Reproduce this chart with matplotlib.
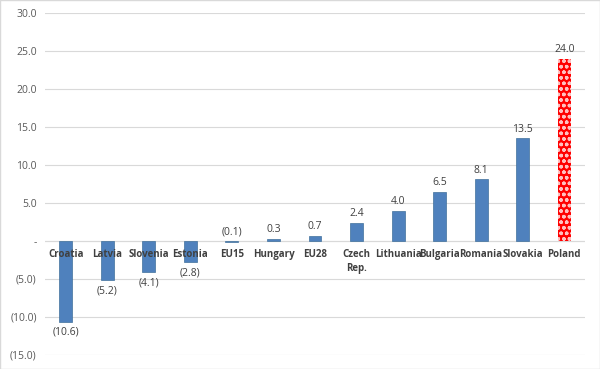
import numpy as np
import matplotlib.pyplot as plt
import matplotlib

matplotlib.rcParams['font.family'] = ['Open Sans', 'DejaVu Sans']
matplotlib.rcParams['hatch.linewidth'] = 1.0

# data
countries = ['Croatia', 'Latvia', 'Slovenia', 'Estonia', 'EU15', 'Hungary', 'EU28',
             'Czech\nRep.', 'Lithuania', 'Bulgaria', 'Romania', 'Slovakia', 'Poland']
values = [-10.6, -5.2, -4.1, -2.8, -0.1, 0.3, 0.7, 2.4, 4.0, 6.5, 8.1, 13.5, 24.0]


def fmt(v):
    if abs(v) < 1e-9:
        return '-'
    if v < 0:
        return '({:.1f})'.format(-v)
    return '{:.1f}'.format(v)


fig = plt.figure(figsize=(6, 3.69), dpi=100)
ax = fig.add_axes([0.075, 0.038, 0.9, 0.927])

x = np.arange(len(countries))
blue = '#4f81bd'
ax.bar(x[:-1], values[:-1], width=0.31, color=blue, edgecolor='#41719c',
       linewidth=0.5, zorder=3)
ax.bar(x[-1], values[-1], width=0.31, color='#ff0000', edgecolor='#ffc0c0',
       hatch='ooo', linewidth=0, zorder=3)

for xi, v in zip(x, values):
    if v >= -0.5:
        # tiny bars get their label above the axis
        ax.text(xi, max(v, 0) + 0.5, fmt(v), ha='center', va='bottom', fontsize=7.5,
                color='#404040')
    else:
        ax.text(xi, v - 0.7, fmt(v), ha='center', va='top', fontsize=7.5, color='#404040')

# category labels just below zero line
for xi, c in zip(x, countries):
    ax.text(xi, -1.1, c, ha='center', va='top', fontsize=7, color='#404040',
            fontweight='bold', linespacing=1.3, zorder=4)

ax.set_xlim(-0.5, len(countries) - 0.5)
ax.set_ylim(-15, 30)
ticks = np.arange(-15, 31, 5)
ax.set_yticks(ticks)
ax.set_yticklabels([fmt(t) for t in ticks], fontsize=7.5, color='#595959')
ax.set_xticks([])
ax.tick_params(axis='y', length=0, pad=6)
ax.grid(axis='y', color='#d9d9d9', linewidth=0.8, zorder=0)
ax.axhline(0, color='#d9d9d9', linewidth=0.8, zorder=1)
for s in ax.spines.values():
    s.set_visible(False)

fig.patches.append(plt.Rectangle((0, 0), 1, 1, transform=fig.transFigure,
                                 fill=False, edgecolor='#d9d9d9', linewidth=1))

fig.savefig('out.png', dpi=100)
